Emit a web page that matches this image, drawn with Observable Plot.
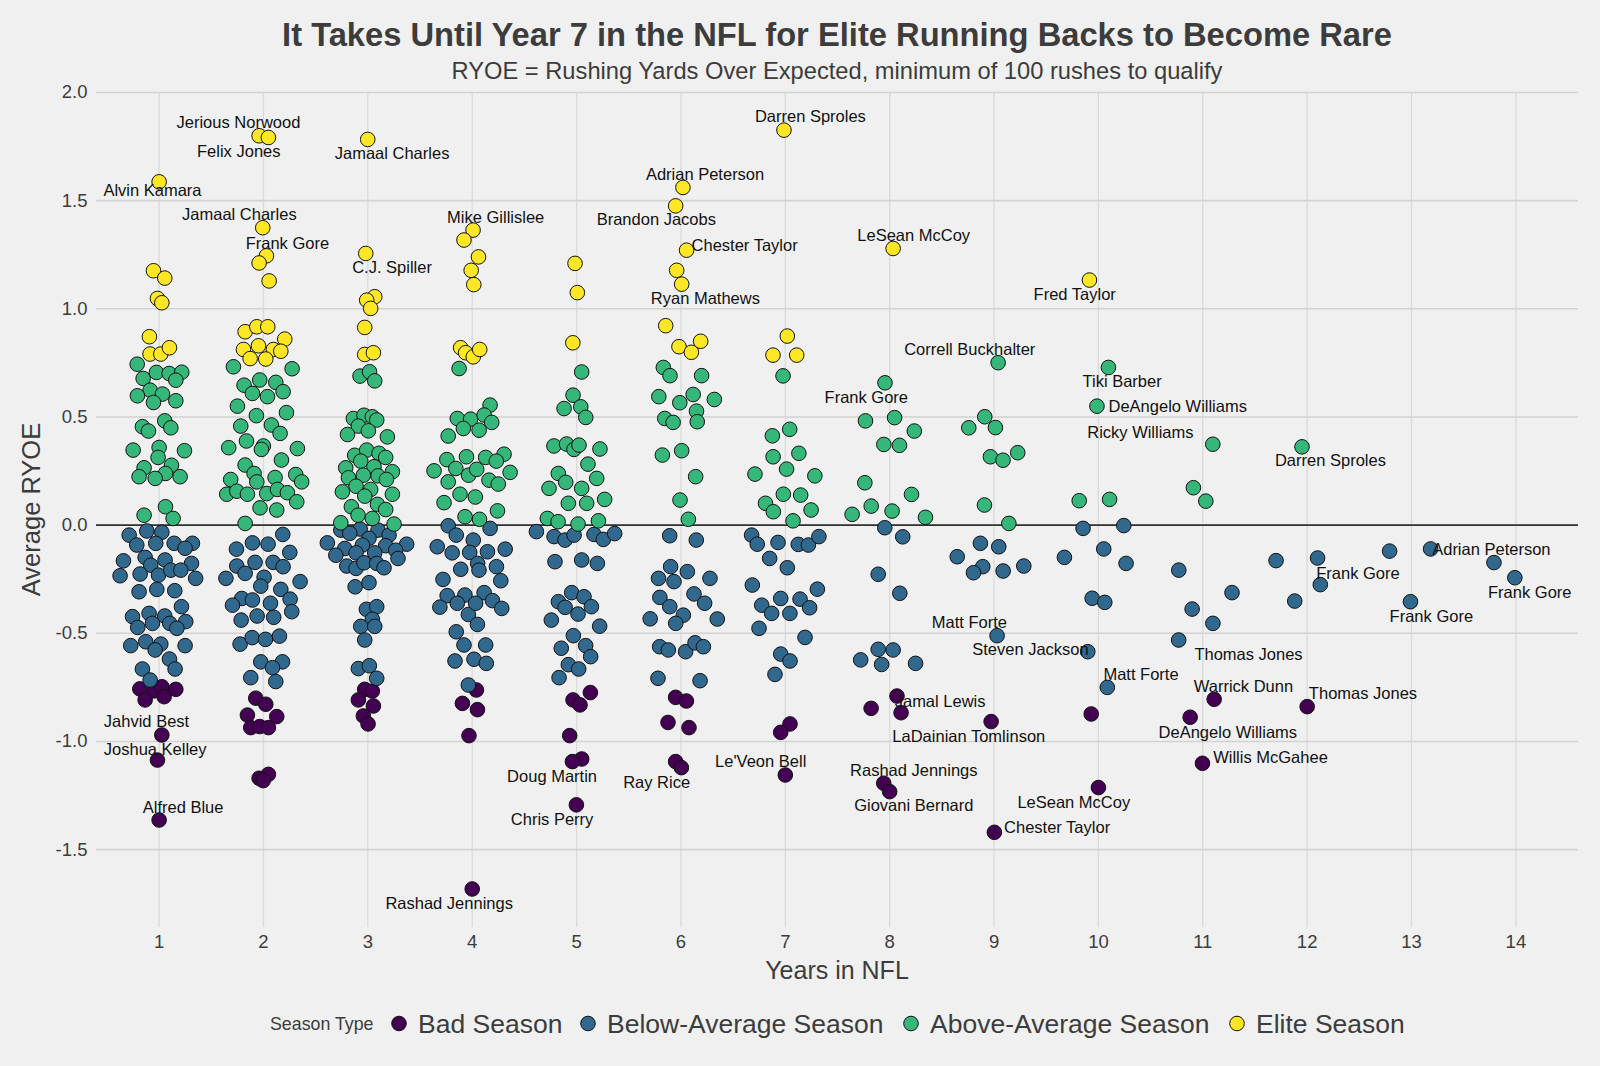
<!DOCTYPE html>
<html><head><meta charset="utf-8">
<script src="https://cdn.jsdelivr.net/npm/d3@7"></script>
<script src="https://cdn.jsdelivr.net/npm/@observablehq/plot@0.6"></script>
<style>
html,body{margin:0;padding:0;background:#f0f0f0;overflow:hidden}
</style></head><body><div id="chart"></div>
<script>
const seasonTypes = ["Bad Season","Below-Average Season","Above-Average Season","Elite Season"];
const seasonColors = ["#440154","#31688e","#35b779","#fde725"];
const yearTicks = [1,2,3,4,5,6,7,8,9,10,11,12,13,14];
const ryoeTicks = [-1.5,-1,-0.5,0,0.5,1,1.5,2];

// [years in NFL (jittered), average RYOE]
const eliteSeasons = [
 [1.0,1.587],[0.946,1.176],[1.054,1.142],[0.984,1.048],[1.026,1.028],[0.907,0.871],[0.913,0.791],[1.016,0.791],[1.099,0.82],
 [1.958,1.80],[2.047,1.792],[1.993,1.375],[2.028,1.245],[1.958,1.212],[2.054,1.129],[1.824,0.894],[1.936,0.917],[2.041,0.917],[2.204,0.86],[1.808,0.812],[1.952,0.829],[2.095,0.812],[2.166,0.804],[1.872,0.77],[2.022,0.768],
 [2.999,1.783],[2.98,1.256],[3.066,1.056],[2.989,1.04],[3.027,1.002],[2.97,0.914],[2.97,0.789],[3.053,0.797],
 [4.008,1.364],[3.921,1.318],[4.06,1.24],[3.99,1.178],[4.015,1.112],[3.889,0.82],[3.937,0.797],[4.01,0.778],[4.072,0.812],
 [4.985,1.21],[5.007,1.075],[4.964,0.843],
 [6.019,1.561],[5.949,1.476],[6.054,1.271],[5.959,1.178],[6.007,1.114],[5.854,0.922],[5.981,0.825],[6.1,0.799],[6.189,0.85],
 [6.987,1.826],[7.019,0.874],[6.882,0.786],[7.109,0.786],
 [8.033,1.279],
 [9.914,1.133]
];
const aboveAverageSeasons = [
 [0.79,0.744],[0.847,0.678],[0.974,0.706],[1.096,0.701],[1.217,0.707],[1.16,0.67],[0.914,0.624],[1.032,0.606],[0.792,0.598],[0.946,0.567],[1.16,0.575],[1.054,0.482],[0.84,0.455],[0.898,0.435],[1.112,0.45],[0.751,0.347],[1.0,0.359],[0.99,0.313],[1.243,0.344],[0.856,0.265],[1.118,0.277],[1.061,0.239],[0.808,0.224],[0.962,0.216],[1.201,0.224],[0.856,0.046],[1.061,0.085],[1.134,0.031],
 [1.712,0.732],[2.274,0.723],[1.814,0.647],[1.964,0.671],[2.118,0.66],[1.894,0.609],[2.038,0.594],[2.188,0.617],[1.75,0.55],[1.932,0.506],[2.22,0.52],[1.782,0.458],[2.076,0.463],[2.159,0.424],[1.667,0.358],[1.837,0.389],[1.999,0.366],[1.98,0.35],[2.325,0.354],[2.172,0.301],[1.824,0.278],[1.91,0.239],[2.111,0.22],[2.309,0.234],[2.366,0.2],[1.686,0.211],[1.936,0.2],[1.648,0.143],[1.744,0.157],[1.846,0.143],[2.031,0.146],[2.134,0.165],[2.229,0.15],[2.319,0.108],[1.967,0.08],[2.127,0.07],[1.824,0.008],
 [2.925,0.689],[3.016,0.709],[3.066,0.667],[2.861,0.493],[2.963,0.508],[3.043,0.501],[3.085,0.486],[2.909,0.458],[3.005,0.436],[2.805,0.419],[3.187,0.408],[2.874,0.323],[2.989,0.347],[3.107,0.332],[3.171,0.313],[2.932,0.296],[2.788,0.265],[3.059,0.27],[3.235,0.247],[2.814,0.219],[2.957,0.231],[3.098,0.228],[3.178,0.211],[2.887,0.18],[3.027,0.165],[2.756,0.154],[2.97,0.134],[3.235,0.143],[2.842,0.085],[3.092,0.096],[3.171,0.072],[2.906,0.046],[3.043,0.031],[2.741,0.011],[3.251,0.005],
 [3.874,0.724],[3.857,0.493],[3.985,0.49],[3.915,0.447],[3.77,0.412],[3.757,0.303],[3.843,0.262],[3.945,0.316],[3.965,0.231],[3.634,0.251],[3.77,0.2],[3.883,0.143],[4.03,0.13],[3.73,0.104],[3.931,0.039],[4.07,0.027],[4.171,0.555],[4.114,0.509],[4.187,0.475],[4.066,0.439],[4.305,0.328],[4.129,0.313],[4.231,0.296],[4.043,0.258],[4.363,0.244],[4.161,0.208],[4.25,0.19],[4.242,0.066],
 [5.049,0.708],[4.966,0.601],[4.88,0.539],[5.04,0.547],[5.088,0.498],[4.783,0.366],[4.904,0.375],[4.975,0.35],[5.023,0.37],[5.224,0.352],[5.109,0.282],[4.825,0.239],[4.896,0.198],[5.193,0.216],[4.736,0.17],[5.049,0.17],[5.269,0.119],[4.921,0.101],[5.097,0.101],[4.72,0.031],[4.823,0.016],[5.014,0.005],[5.209,0.02],
 [5.831,0.729],[5.895,0.691],[6.198,0.691],[5.788,0.594],[5.989,0.566],[6.117,0.604],[6.32,0.581],[6.149,0.527],[5.845,0.493],[5.925,0.475],[6.156,0.478],[5.822,0.324],[6.007,0.344],[6.141,0.224],[5.991,0.116],[6.071,0.027],
 [6.978,0.69],[7.042,0.443],[6.876,0.413],[6.883,0.316],[7.13,0.332],[7.012,0.259],[7.283,0.228],[6.709,0.236],[6.981,0.143],[7.147,0.139],[6.81,0.101],[6.885,0.062],[7.247,0.07],[7.074,0.02],
 [7.955,0.658],[7.768,0.482],[8.047,0.497],[8.236,0.435],[7.944,0.373],[8.094,0.369],[7.762,0.196],[8.209,0.142],[7.823,0.088],[8.023,0.065],[8.343,0.036],[7.64,0.05],
 [9.039,0.751],[8.911,0.501],[8.758,0.45],[9.013,0.451],[8.965,0.316],[9.086,0.3],[9.227,0.335],[8.908,0.093],[9.142,0.008],
 [10.096,0.729],[9.986,0.55],[9.816,0.113],[10.107,0.119],
 [11.096,0.374],[10.91,0.173],[11.029,0.111],
 [11.951,0.362]
];
const belowAverageSeasons = [
 [0.713,-0.046],[0.882,-0.027],[1.026,-0.033],[0.786,-0.092],[0.968,-0.084],[1.144,-0.084],[1.319,-0.084],[1.249,-0.107],[0.658,-0.165],[0.866,-0.149],[1.057,-0.161],[1.31,-0.177],[0.92,-0.185],[0.626,-0.234],[0.818,-0.226],[0.994,-0.231],[1.112,-0.208],[1.208,-0.208],[1.35,-0.246],[0.808,-0.308],[0.978,-0.297],[1.15,-0.303],[1.214,-0.377],[0.745,-0.423],[0.904,-0.408],[1.054,-0.42],[0.936,-0.454],[0.795,-0.473],[1.102,-0.454],[1.255,-0.446],[1.17,-0.477],[0.728,-0.557],[0.872,-0.539],[1.016,-0.55],[0.962,-0.577],[1.249,-0.557],[1.099,-0.619],[0.84,-0.665],[1.153,-0.665],[0.914,-0.716],
 [2.185,-0.043],[1.894,-0.082],[2.044,-0.088],[1.741,-0.111],[2.252,-0.126],[1.744,-0.189],[1.919,-0.172],[2.092,-0.172],[2.188,-0.192],[1.64,-0.246],[1.824,-0.223],[2.006,-0.241],[2.351,-0.261],[1.974,-0.282],[2.166,-0.297],[2.255,-0.342],[1.792,-0.339],[1.703,-0.37],[1.894,-0.346],[2.067,-0.361],[2.271,-0.4],[1.786,-0.439],[1.939,-0.42],[2.098,-0.426],[1.776,-0.55],[1.891,-0.52],[2.019,-0.528],[2.153,-0.513],[1.974,-0.632],[2.182,-0.632],[2.086,-0.659],[1.878,-0.705],[2.118,-0.723],
 [2.741,-0.023],[2.926,-0.018],[3.098,-0.023],[3.203,-0.046],[2.827,-0.038],[3.011,-0.061],[2.612,-0.082],[2.779,-0.108],[2.948,-0.092],[3.171,-0.095],[3.372,-0.088],[2.693,-0.139],[2.887,-0.128],[3.066,-0.128],[3.267,-0.116],[3.289,-0.154],[2.798,-0.189],[2.887,-0.2],[2.963,-0.174],[3.085,-0.177],[3.155,-0.197],[2.878,-0.285],[3.011,-0.266],[2.986,-0.389],[3.085,-0.377],[3.043,-0.435],[2.932,-0.468],[3.066,-0.468],[2.97,-0.531],[2.909,-0.663],[3.014,-0.65],[3.085,-0.708],
 [3.77,-0.003],[3.847,-0.046],[4.01,-0.069],[3.665,-0.1],[3.808,-0.128],[3.976,-0.126],[3.89,-0.204],[4.052,-0.177],[3.72,-0.251],[3.76,-0.326],[3.93,-0.323],[3.69,-0.379],[3.857,-0.361],[3.963,-0.413],[3.847,-0.493],[3.921,-0.554],[4.05,-0.459],[3.835,-0.628],[4.017,-0.62],[4.171,-0.015],[4.316,-0.111],[4.146,-0.123],[4.232,-0.192],[4.065,-0.208],[4.274,-0.257],[4.114,-0.312],[4.194,-0.349],[4.283,-0.385],[4.033,-0.361],[4.129,-0.554],[4.135,-0.639],[3.963,-0.739],
 [4.615,-0.03],[4.784,-0.053],[4.889,-0.069],[4.976,-0.046],[5.167,-0.043],[5.256,-0.066],[5.365,-0.039],[4.793,-0.169],[5.049,-0.161],[5.199,-0.177],[4.953,-0.312],[5.071,-0.331],[4.826,-0.354],[4.89,-0.38],[5.142,-0.377],[5.014,-0.411],[4.758,-0.439],[5.221,-0.467],[4.969,-0.511],[5.087,-0.557],[4.853,-0.569],[5.135,-0.608],[4.921,-0.645],[5.02,-0.665],[4.832,-0.705],
 [5.892,-0.049],[6.147,-0.069],[5.901,-0.192],[6.061,-0.215],[5.785,-0.246],[5.933,-0.261],[6.278,-0.246],[6.125,-0.318],[5.798,-0.334],[5.893,-0.377],[6.227,-0.361],[5.705,-0.433],[6.023,-0.416],[5.95,-0.454],[6.348,-0.434],[5.796,-0.562],[5.879,-0.577],[6.045,-0.585],[6.135,-0.544],[6.215,-0.562],[5.78,-0.708],[6.183,-0.719],
 [6.677,-0.046],[6.731,-0.088],[6.93,-0.08],[7.124,-0.089],[7.221,-0.092],[7.322,-0.053],[6.85,-0.154],[7.019,-0.197],[6.684,-0.277],[6.956,-0.339],[7.141,-0.342],[7.307,-0.296],[6.774,-0.37],[6.869,-0.408],[7.044,-0.408],[7.233,-0.382],[6.748,-0.477],[7.189,-0.519],[6.956,-0.596],[7.045,-0.628],[6.901,-0.69],
 [7.953,-0.012],[8.125,-0.054],[7.89,-0.227],[8.097,-0.315],[7.722,-0.623],[7.89,-0.574],[8.033,-0.577],[7.923,-0.644],[8.248,-0.639],
 [8.869,-0.084],[9.045,-0.1],[8.647,-0.146],[8.892,-0.192],[8.803,-0.22],[9.087,-0.212],[9.285,-0.189],[9.029,-0.511],
 [9.853,-0.015],[10.243,-0.002],[9.674,-0.149],[10.051,-0.11],[10.265,-0.177],[9.94,-0.338],[10.061,-0.357],[9.898,-0.585],[10.085,-0.75],
 [10.77,-0.208],[10.898,-0.388],[11.097,-0.454],[10.769,-0.531],[11.28,-0.312],
 [11.702,-0.164],[11.881,-0.351],[12.1,-0.152],[12.126,-0.275],[12.79,-0.12],[13.183,-0.11],[13.79,-0.173],[13.99,-0.243],[12.99,-0.354]
];
const badSeasons = [
 [0.815,-0.757],[0.952,-0.766],[1.026,-0.747],[1.16,-0.759],[0.866,-0.808],[1.048,-0.793],[1.026,-0.97],[0.984,-1.086],[1.0,-1.363],
 [1.926,-0.8],[2.022,-0.828],[1.846,-0.878],[2.127,-0.885],[1.878,-0.936],[1.964,-0.931],[2.047,-0.936],[2.047,-1.152],[1.958,-1.17],[1.997,-1.181],
 [2.97,-0.759],[3.043,-0.767],[2.909,-0.808],[3.053,-0.836],[2.957,-0.882],[3.002,-0.919],
 [4.04,-0.762],[3.906,-0.824],[4.05,-0.853],[3.969,-0.973],[4.0,-1.682],
 [5.132,-0.774],[4.966,-0.808],[5.033,-0.831],[4.934,-0.973],[5.049,-1.081],[4.96,-1.093],[4.998,-1.293],
 [5.949,-0.796],[6.052,-0.813],[5.876,-0.912],[6.077,-0.936],[5.949,-1.093],[6.004,-1.121],
 [7.045,-0.919],[6.956,-0.958],[7.0,-1.155],
 [8.07,-0.79],[7.822,-0.847],[8.109,-0.867],[7.943,-1.193],[8.0,-1.232],
 [8.972,-0.908],[9.003,-1.42],
 [9.931,-0.873],[10.0,-1.213],
 [11.109,-0.805],[10.879,-0.888],[10.997,-1.101],
 [12.0,-0.839]
];
// [player name, label x, label y]
const playerLabels = [
 ["Jerious Norwood",1.76,1.861],["Felix Jones",1.763,1.725],["Jamaal Charles",3.232,1.715],["Alvin Kamara",0.936,1.548],
 ["Jamaal Charles",1.769,1.433],["Frank Gore",2.229,1.302],["C.J. Spiller",3.232,1.189],["Mike Gillislee",4.225,1.422],
 ["Darren Sproles",7.24,1.887],["Adrian Peterson",6.231,1.621],["Brandon Jacobs",5.764,1.413],["Chester Taylor",6.61,1.294],
 ["Ryan Mathews",6.234,1.045],["LeSean McCoy",8.23,1.337],["Fred Taylor",9.773,1.063],["Correll Buckhalter",8.767,0.812],
 ["Tiki Barber",10.227,0.663],["Frank Gore",7.776,0.59],["DeAngelo Williams",10.76,0.547],["Ricky Williams",10.402,0.429],
 ["Darren Sproles",12.223,0.296],["Adrian Peterson",13.765,-0.115],["Frank Gore",12.487,-0.226],["Frank Gore",14.133,-0.313],
 ["Frank Gore",13.19,-0.424],["Matt Forte",8.764,-0.45],["Steven Jackson",9.349,-0.577],["Thomas Jones",11.438,-0.6],
 ["Matt Forte",10.408,-0.69],["Warrick Dunn",11.39,-0.746],["Thomas Jones",12.535,-0.777],["Jamal Lewis",8.483,-0.816],
 ["DeAngelo Williams",11.24,-0.958],["LaDainian Tomlinson",8.758,-0.977],["Willis McGahee",11.649,-1.073],
 ["Rashad Jennings",8.231,-1.135],["LeSean McCoy",9.764,-1.283],["Giovani Bernard",8.231,-1.298],["Chester Taylor",9.604,-1.398],
 ["Jahvid Best",0.879,-0.911],["Joshua Kelley",0.962,-1.036],["Alfred Blue",1.23,-1.306],["Rashad Jennings",3.779,-1.748],
 ["Doug Martin",4.765,-1.163],["Chris Perry",4.765,-1.363],["Ray Rice",5.767,-1.193],["Le'Veon Bell",6.764,-1.093]
];

const titleText = "It Takes Until Year 7 in the NFL for Elite Running Backs to Become Rare";
const subtitleText = "RYOE = Rushing Yards Over Expected, minimum of 100 rushes to qualify";

const seasonsByType = [badSeasons, belowAverageSeasons, aboveAverageSeasons, eliteSeasons];
const points = seasonsByType.flatMap((arr, i) => arr.map(([x, y]) => ({x, y, type: seasonTypes[i]})));
const labels = playerLabels.map(([name, x, y]) => ({name, x, y}));

const FONT = "'Liberation Sans', Arial, Helvetica, sans-serif";
const W = 1600, H = 1066;
const M = {top: 92, right: 22, bottom: 139, left: 96};

const svg = Plot.plot({
  width: W, height: H,
  marginTop: M.top, marginRight: M.right, marginBottom: M.bottom, marginLeft: M.left,
  style: {background: "#f0f0f0", fontFamily: FONT, overflow: "visible"},
  x: {domain: [0.4, 14.6]},
  y: {domain: [-1.86, 2.0]},
  color: {domain: seasonTypes, range: seasonColors},
  marks: [
    Plot.gridX(yearTicks, {stroke: "#dadada", strokeOpacity: 1, strokeWidth: 1.3}),
    Plot.gridY(ryoeTicks, {stroke: "#d2d2d2", strokeOpacity: 1, strokeWidth: 1.6}),
    Plot.ruleY([0], {stroke: "#333333", strokeWidth: 1.8}),
    Plot.dot(points, {x: "x", y: "y", fill: "type", stroke: "#111", strokeWidth: 1, r: 7.3, fillOpacity: 1}),
    Plot.text(labels, {x: "x", y: "y", text: "name", fontSize: 16.5, fill: "#111", textAnchor: "middle", lineAnchor: "middle"}),
    Plot.axisX(yearTicks, {tickSize: 0, tickPadding: 7, fontSize: 18.5, fill: "#3c3c3c", label: null}),
    Plot.axisY(ryoeTicks, {tickSize: 0, tickPadding: 9, fontSize: 18.5, fill: "#3c3c3c", label: null, tickFormat: d => d.toFixed(1)})
  ]
});
document.getElementById("chart").appendChild(svg);

const s = d3.select(svg);
const cx = (M.left + (W - M.right)) / 2;
const cy = (M.top + (H - M.bottom)) / 2;
s.append("text").attr("x", cx).attr("y", 45.5).attr("text-anchor", "middle")
  .attr("font-size", 32.7).attr("font-weight", "bold").attr("fill", "#3c3c3c").text(titleText);
s.append("text").attr("x", cx).attr("y", 78.5).attr("text-anchor", "middle")
  .attr("font-size", 23.7).attr("fill", "#3c3c3c").text(subtitleText);
s.append("text").attr("x", cx).attr("y", 979).attr("text-anchor", "middle")
  .attr("font-size", 25).attr("fill", "#3c3c3c").text("Years in NFL");
s.append("text").attr("transform", `translate(40,${cy}) rotate(-90)`).attr("text-anchor", "middle")
  .attr("font-size", 25.5).attr("fill", "#3c3c3c").text("Average RYOE");

// legend
const legY = 1023.5;
s.append("text").attr("x", 270).attr("y", legY).attr("dy", "0.35em").attr("text-anchor", "start")
  .attr("font-size", 17.8).attr("fill", "#3c3c3c").text("Season Type");
const legX = [399, 588, 911, 1237];
seasonTypes.forEach((t, i) => {
  s.append("circle").attr("cx", legX[i]).attr("cy", legY).attr("r", 7.3)
    .attr("fill", seasonColors[i]).attr("stroke", "#111").attr("stroke-width", 1);
  s.append("text").attr("x", legX[i] + 19).attr("y", legY).attr("dy", "0.35em").attr("text-anchor", "start")
    .attr("font-size", 26.5).attr("fill", "#3c3c3c").text(t);
});
</script></body></html>
